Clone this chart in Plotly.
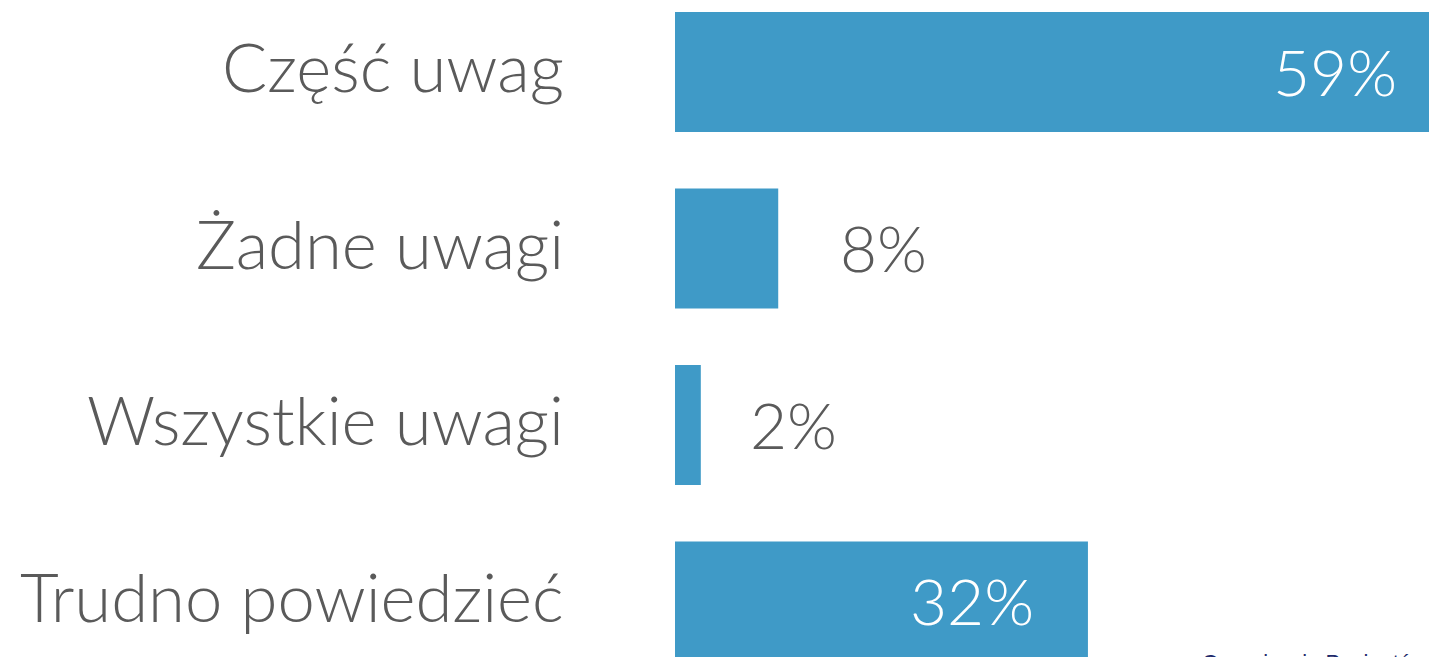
import plotly.graph_objects as go

# dane
categories = ["Część uwag", "Żadne uwagi", "Wszystkie uwagi", "Trudno powiedzieć"]
values = [59, 8, 2, 32]
labels = ["59%", "8%", "2%", "32%"]
inside = [True, False, False, True]

bar_color = "#3F9AC7"
text_color = "#5a5a5a"
font_family = "Lato"

# przesunięcia etykiet wartości (px)
label_shift = {"59%": -37, "8%": 60, "2%": 47, "32%": -52}

fig = go.Figure()

fig.add_trace(go.Bar(
    x=values,
    y=categories,
    orientation="h",
    marker=dict(color=bar_color, line=dict(width=0)),
    width=0.68,
    hoverinfo="skip",
))

# etykiety kategorii
for cat in categories:
    fig.add_annotation(
        x=0, y=cat, xref="x", yref="y",
        text=cat, showarrow=False,
        xanchor="right", xshift=-109, yshift=6,
        font=dict(family=font_family, size=67, color=text_color, weight=300),
    )

# etykiety wartości
for cat, v, lab, ins in zip(categories, values, labels, inside):
    fig.add_annotation(
        x=v, y=cat, xref="x", yref="y",
        text=lab, showarrow=False,
        xanchor="right" if ins else "left",
        xshift=label_shift[lab],
        yshift=1,
        font=dict(family=font_family, size=64,
                  color="white" if ins else text_color, weight=300),
    )

fig.add_annotation(
    x=0, y=0.014, xref="paper", yref="paper",
    text="Organizacje Pacjentów",
    showarrow=False, xanchor="left", yanchor="top", xshift=525,
    font=dict(family="Liberation Sans", size=22, color="#1f2a6b"),
)

fig.update_layout(
    width=1429,
    height=649,
    margin=dict(l=667, r=0, t=0, b=0),
    paper_bgcolor="white",
    plot_bgcolor="white",
    showlegend=False,
    xaxis=dict(range=[0, 59.05], visible=False, fixedrange=True),
    yaxis=dict(range=[3.314, -0.3626], showticklabels=False, showgrid=False,
               zeroline=False, showline=False, ticks=""),
)

fig.write_html("out.html")
